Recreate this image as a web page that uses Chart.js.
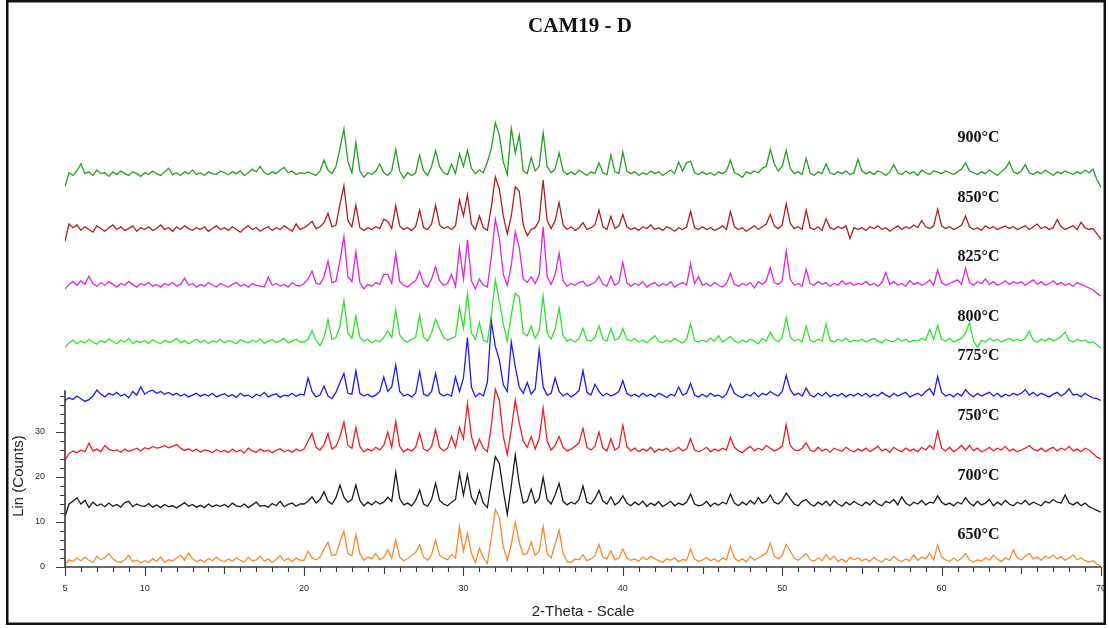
<!DOCTYPE html>
<html lang="en">
<head>
<meta charset="UTF-8">
<title>CAM19 - D</title>
<script src="https://cdn.jsdelivr.net/npm/chart.js"></script>
<style>
    html, body { margin: 0; padding: 0; background: #fff; }
    canvas { display: block; }
</style>
</head>
<body>
<canvas id="xrdChart" width="1109" height="628"></canvas>
<script>
// scan: 5 to 70 deg 2-theta, 0.25 deg step (261 points per pattern)
const scanStart = 5;
const scanStep = 0.25;

// vertical stacking offset of each pattern (counts)
const offsets = [0, 12, 24, 36, 48, 60, 72, 84];
const temps = ['650°C', '700°C', '750°C', '775°C', '800°C', '825°C', '850°C', '900°C'];

const xTickValues = [5, 10, 20, 30, 40, 50, 60, 70];
const yTickValues = [0, 10, 20, 30];

// intensities above each offset, 20 points (5 deg) per line
const i650 = [
    0.4,1.6,1.2,2.0,1.4,2.2,1.5,1.0,2.4,1.6,2.1,3.0,1.8,1.2,1.0,1.6,2.6,1.2,1.5,0.9,
    1.4,1.0,1.8,1.3,2.2,1.1,1.6,1.4,2.0,2.6,1.5,3.1,1.8,1.2,1.6,1.1,1.9,1.4,2.2,1.5,
    1.2,1.8,1.3,2.0,1.5,1.1,2.2,1.4,1.6,2.4,1.3,1.8,1.0,1.7,2.5,1.4,1.9,1.2,2.0,1.5,
    1.5,3.5,2.0,1.6,2.2,4.0,5.5,2.5,2.8,5.5,8.0,3.0,2.5,7.2,3.0,1.5,2.2,1.8,3.0,1.6,
    2.2,3.8,2.0,6.0,2.2,1.4,1.9,2.6,3.2,4.9,2.2,1.5,2.8,6.0,2.6,2.0,1.6,2.8,2.0,9.0,
    3.5,7.5,3.0,1.0,4.2,2.0,0.8,6.5,12.8,11.0,4.5,1.5,5.0,10.0,5.5,2.8,3.0,5.6,2.6,3.5,
    9.0,3.0,2.0,5.0,8.2,3.0,1.2,1.0,1.8,1.6,2.7,1.4,1.8,2.5,5.0,2.2,1.8,3.6,1.6,2.0,
    4.0,2.0,1.5,1.8,1.3,2.2,1.6,2.4,1.8,1.4,1.0,1.9,1.5,2.0,1.2,1.7,1.5,4.0,1.8,1.2,
    1.6,2.1,1.4,1.8,1.2,2.0,1.6,4.6,2.0,1.3,1.8,1.1,2.4,1.5,2.0,2.6,3.0,5.3,2.4,1.8,
    2.6,5.0,3.6,2.0,1.5,2.2,3.0,1.6,1.3,2.0,1.4,2.8,1.6,2.4,1.2,1.8,1.1,2.2,1.6,2.0,
    1.4,1.8,1.2,2.2,1.5,1.1,1.9,1.4,2.3,1.6,1.2,1.8,1.4,2.7,1.5,2.2,1.8,3.0,1.6,4.9,
    2.2,1.6,1.2,2.0,1.4,1.9,3.0,1.6,1.1,1.6,1.3,2.0,1.5,2.6,1.8,1.2,2.0,1.6,3.8,2.0,
    1.6,2.4,3.0,1.8,2.2,1.5,2.4,2.0,2.6,1.8,2.3,1.5,2.0,2.7,1.6,2.0,1.4,1.1,1.4,0.6,
    0.3
];
const i700 = [
    -0.8,2.0,2.6,3.4,2.0,2.8,1.2,2.4,1.6,2.0,1.4,2.2,1.5,1.9,1.3,2.3,2.6,1.4,2.0,1.6,
    1.5,2.1,1.3,1.8,1.2,1.9,1.4,1.6,1.1,1.7,2.3,1.5,1.9,1.3,1.7,1.2,2.0,1.4,1.8,1.5,
    1.9,1.3,2.2,1.6,1.4,2.0,1.2,1.8,2.4,1.5,1.7,1.3,2.1,1.6,2.6,1.4,1.9,2.2,1.5,2.0,
    2.0,2.6,3.6,2.2,3.0,4.7,2.6,2.0,3.4,6.2,3.5,2.4,3.0,6.2,2.8,1.6,2.4,1.8,2.6,2.0,
    2.4,3.5,2.6,9.0,3.2,1.8,2.2,1.6,2.8,5.1,2.0,1.5,3.0,6.6,2.8,2.0,1.6,2.4,3.0,8.8,
    4.0,8.5,3.5,2.0,5.0,2.2,1.2,7.0,12.5,11.0,5.0,-0.3,6.0,12.9,6.5,2.2,2.6,5.3,2.2,3.2,
    7.9,3.0,2.0,4.0,6.6,2.6,1.8,2.4,2.0,3.0,6.0,2.4,2.0,3.2,5.0,2.6,2.0,3.6,1.8,2.4,
    3.8,2.2,1.6,2.4,1.8,2.6,1.5,2.2,1.7,2.5,1.4,2.0,2.6,1.6,2.2,1.8,2.4,4.2,2.0,1.6,
    1.8,2.6,1.5,2.2,1.7,2.4,2.0,4.2,2.2,1.6,2.4,1.8,2.8,2.0,3.4,2.2,2.6,4.0,2.4,2.0,
    2.8,4.4,3.2,2.0,1.6,2.6,3.0,2.0,1.5,2.4,1.8,2.6,1.6,2.8,2.0,1.5,2.4,1.8,2.6,2.0,
    1.6,2.4,1.8,2.8,2.0,1.6,2.6,2.2,3.0,1.8,3.6,2.2,1.6,2.4,2.0,2.8,1.8,2.4,2.2,3.8,
    2.4,1.8,2.2,1.6,2.4,2.0,3.4,2.2,1.6,2.6,1.8,2.2,3.0,1.6,2.4,1.8,2.8,2.0,1.6,2.4,
    2.0,2.8,1.8,2.4,2.0,1.6,2.6,2.2,3.0,2.4,2.2,4.0,2.2,1.8,2.4,1.6,2.2,1.4,1.0,0.6,
    0.2
];
const i750 = [
    -0.2,1.2,1.8,1.4,2.0,1.6,3.5,1.8,2.2,1.6,3.0,2.2,1.8,2.0,1.5,2.2,1.7,2.0,2.4,1.8,
    2.5,2.2,2.8,2.4,2.6,3.0,2.5,2.8,3.2,2.4,1.9,2.3,1.7,2.2,1.5,2.0,1.8,1.4,2.1,1.6,
    1.9,1.4,2.2,1.6,2.0,1.3,2.4,1.8,1.5,2.2,1.7,2.0,1.4,1.9,2.3,1.6,2.0,1.5,2.2,1.8,
    2.2,4.0,5.7,2.6,2.0,3.2,5.7,2.2,2.8,5.0,8.2,3.0,2.4,7.0,2.8,1.6,2.2,1.8,2.6,2.0,
    3.0,6.0,2.6,8.3,2.8,1.6,2.2,1.8,2.6,5.7,2.2,1.8,2.8,6.5,2.6,1.8,2.4,5.0,2.6,7.0,
    4.5,12.4,5.0,2.0,4.4,2.4,1.6,7.5,15.5,13.0,5.0,1.0,6.5,13.1,8.0,4.0,2.6,5.0,2.2,4.5,
    11.3,4.0,2.0,3.0,5.0,2.6,1.8,2.2,2.8,3.6,6.8,2.6,2.0,2.8,6.0,2.4,1.8,4.5,2.0,2.6,
    7.5,2.8,1.8,2.4,1.6,2.2,1.8,2.6,1.5,2.2,1.9,2.4,1.6,2.0,2.6,1.8,2.2,4.5,2.0,1.6,
    2.0,2.6,1.6,2.2,1.8,2.4,2.0,4.8,2.6,1.8,1.4,2.2,2.8,1.8,2.4,2.0,3.0,2.4,1.8,2.2,
    2.8,7.6,3.0,2.0,1.8,2.4,3.6,2.0,1.6,2.6,1.8,2.2,1.5,2.4,2.0,1.7,2.6,2.0,1.6,2.2,
    1.8,2.4,1.6,2.2,2.8,1.8,2.2,1.5,2.6,2.0,1.6,2.4,1.8,2.2,1.6,2.6,2.0,3.0,2.2,6.2,
    2.4,1.8,2.6,1.6,2.2,3.0,2.0,3.0,1.8,2.4,1.6,2.0,2.6,1.8,2.4,2.0,2.8,1.8,2.2,1.6,
    2.0,2.4,3.0,2.2,1.8,2.4,1.6,2.2,2.6,1.8,2.4,2.0,2.8,1.8,2.2,1.6,2.4,2.0,1.2,0.4,
    0.0
];
const i775 = [
    1.0,1.6,1.2,2.0,1.4,0.8,1.2,2.0,3.3,2.4,1.8,2.6,2.2,2.8,2.0,2.4,1.6,3.0,2.2,4.0,
    2.4,3.0,3.3,2.6,3.0,2.4,2.8,2.2,2.6,2.0,2.4,1.8,2.2,2.6,1.9,2.4,2.0,2.6,1.8,2.2,
    2.5,1.9,2.3,1.7,2.6,2.0,2.2,1.6,2.4,2.0,2.8,1.8,2.2,2.5,1.7,2.2,2.0,2.6,1.9,2.4,
    2.2,6.0,3.0,1.8,2.2,4.2,2.0,1.4,2.8,5.0,7.0,2.6,2.4,7.6,2.6,2.0,2.4,1.8,2.2,3.0,
    6.2,3.0,4.0,8.9,3.0,2.0,2.4,1.8,2.6,7.4,2.4,2.0,3.0,7.0,2.6,2.0,2.4,2.0,6.2,3.0,
    6.0,15.0,4.0,1.8,2.6,2.0,5.0,18.5,13.0,10.0,4.5,3.0,14.0,8.5,4.0,2.6,5.0,2.4,3.5,12.2,
    4.0,2.2,2.6,6.0,3.0,2.0,2.6,1.8,2.4,3.2,7.6,2.8,2.2,4.6,3.0,2.0,2.6,2.0,2.4,3.0,
    5.4,2.6,2.0,2.4,1.8,2.6,2.0,2.4,1.8,2.6,2.2,1.6,2.4,2.0,4.0,2.2,2.6,4.8,2.2,1.8,
    2.4,1.8,2.6,2.0,2.2,1.6,2.4,4.6,2.6,2.0,1.6,2.4,2.0,2.8,1.8,2.6,2.2,3.0,2.4,2.0,
    3.0,6.6,3.4,2.2,2.6,2.0,3.8,2.2,1.8,2.6,2.0,2.8,1.8,2.4,2.0,2.6,1.8,2.4,2.0,2.6,
    2.0,2.6,1.8,2.4,2.0,2.8,2.2,1.8,2.6,2.0,2.4,2.8,1.8,2.2,2.6,2.0,3.0,3.6,2.2,6.3,
    2.8,2.0,2.4,1.8,2.6,2.0,3.4,2.4,1.8,2.6,2.0,2.4,2.8,2.0,2.6,1.8,2.4,2.0,2.6,2.2,
    2.6,3.4,2.2,2.8,2.0,2.6,2.2,1.8,2.4,2.8,2.0,2.6,3.6,2.2,2.4,1.8,2.6,2.0,1.6,1.4,
    1.0
];
const i800 = [
    0.8,1.8,2.4,1.6,2.2,1.8,2.6,2.0,1.5,2.3,1.9,2.7,2.1,1.6,2.4,2.0,2.8,1.7,2.2,1.9,
    2.3,1.7,2.5,2.0,1.6,2.4,1.9,2.2,2.8,1.8,2.3,1.6,2.1,2.6,1.9,2.4,1.7,2.2,2.0,2.6,
    1.8,2.3,2.0,1.6,2.5,2.1,1.8,2.4,2.0,2.7,1.7,2.2,2.5,1.9,2.3,2.8,1.8,2.2,2.6,2.0,
    2.0,2.6,4.5,2.4,1.2,3.0,6.9,2.6,3.0,5.5,11.2,4.0,2.8,7.8,3.0,2.2,2.6,1.8,2.4,2.0,
    3.0,4.5,3.0,9.1,3.6,2.4,2.0,2.6,3.0,8.0,3.0,2.2,4.0,7.0,5.0,3.0,2.4,2.8,3.2,9.7,
    5.0,12.7,4.0,2.6,6.3,2.4,2.0,8.0,15.8,11.0,6.0,2.2,8.0,12.8,12.0,4.0,3.4,5.5,2.8,4.5,
    12.2,4.0,2.6,5.0,9.5,3.4,2.2,2.6,2.0,2.8,5.0,2.4,2.2,3.0,5.6,2.6,2.2,5.0,2.4,2.8,
    5.0,2.6,2.2,2.8,2.0,2.4,1.8,2.6,3.4,2.2,1.8,2.4,2.0,2.8,2.2,1.8,2.6,6.0,2.4,2.0,
    2.4,2.0,2.8,2.2,3.4,2.0,2.6,3.2,2.2,1.8,2.4,2.0,2.6,2.2,1.6,2.8,2.2,4.2,2.6,2.0,
    3.0,7.4,3.2,2.2,2.6,2.0,5.5,2.4,2.0,2.6,2.2,6.0,2.4,2.0,2.6,2.2,2.8,2.0,2.4,2.2,
    2.6,2.0,2.4,2.8,2.2,1.8,2.6,2.2,2.0,2.8,2.2,2.6,2.0,2.4,2.2,2.8,2.4,4.8,2.6,5.7,
    2.6,2.2,2.8,2.0,2.4,2.8,4.0,6.4,2.2,0.8,2.4,2.0,2.8,2.2,2.6,2.0,2.4,2.8,2.2,2.6,
    2.2,2.8,4.4,2.4,2.0,2.6,2.2,2.8,2.2,2.6,3.2,4.2,2.4,2.0,2.6,2.2,2.4,1.8,2.0,1.4,
    0.6
];
const i825 = [
    1.8,2.8,3.4,2.6,3.6,2.8,4.6,3.0,2.4,3.2,2.6,3.4,2.8,2.2,3.0,2.6,3.4,2.8,2.2,3.0,
    2.6,3.2,2.4,2.8,2.2,3.0,2.6,3.2,2.4,2.8,4.2,2.6,3.0,2.2,2.8,2.4,3.2,2.6,2.2,3.0,
    2.6,2.2,2.8,3.2,2.4,2.8,2.2,3.0,2.6,2.4,2.2,4.4,2.6,3.0,2.4,2.8,2.2,3.2,2.6,2.4,
    3.0,4.0,5.8,3.0,2.8,4.5,8.0,3.2,3.5,8.0,13.4,4.5,3.4,10.0,3.2,1.8,2.8,2.4,3.2,2.8,
    5.0,5.0,3.0,9.7,3.4,2.6,2.2,3.0,3.6,5.7,3.0,2.2,4.0,6.7,3.6,2.6,3.0,5.0,2.4,10.8,
    4.0,12.7,3.6,1.8,4.0,2.6,2.2,9.0,17.3,13.0,5.0,2.6,7.0,14.5,11.0,4.0,3.2,4.5,3.0,5.0,
    15.6,4.5,2.8,5.0,9.7,3.6,2.4,3.0,2.6,3.2,3.5,2.4,2.8,3.2,4.6,2.8,2.4,4.6,2.6,3.2,
    7.7,3.2,2.4,3.0,2.6,3.4,2.2,2.8,3.2,2.4,3.0,2.6,3.4,2.2,2.8,3.2,2.6,7.4,3.0,4.5,
    2.6,3.0,2.4,3.2,2.6,2.2,3.0,5.2,2.8,2.4,3.0,2.6,3.2,2.0,3.4,2.8,3.6,6.5,3.2,2.8,
    3.6,10.2,4.0,2.6,3.0,2.4,6.2,3.0,2.6,3.4,2.8,3.2,2.4,3.0,2.6,3.6,2.8,3.2,2.6,3.0,
    2.8,3.4,2.6,3.0,2.4,3.2,5.4,2.8,3.4,2.6,3.0,2.4,3.6,2.8,3.2,2.6,3.0,3.8,2.6,6.0,
    3.2,2.6,3.0,3.4,3.8,2.8,6.4,3.2,2.6,3.4,3.0,4.0,2.8,3.4,2.6,3.0,3.6,2.8,3.4,3.0,
    3.4,2.6,3.2,3.8,2.8,3.4,2.6,3.0,3.6,2.8,3.2,2.6,3.0,2.4,3.2,2.8,2.4,2.0,1.6,0.8,
    0.2
];
const i850 = [
    0.4,4.2,3.4,4.0,2.8,3.6,3.0,2.4,3.8,3.2,2.6,3.4,4.0,3.0,3.6,2.8,3.2,3.8,2.6,3.4,
    3.0,3.6,2.8,3.2,4.0,3.0,3.4,2.6,3.6,3.0,3.8,3.2,2.8,3.4,3.0,3.6,2.6,3.2,3.8,3.0,
    3.4,2.8,3.6,3.0,2.4,3.2,3.8,3.0,3.4,2.6,3.2,3.6,2.8,3.4,3.0,3.8,3.2,2.6,4.2,3.0,
    3.4,4.0,4.8,3.2,3.6,4.5,6.6,3.6,4.0,8.5,12.7,5.0,3.6,8.4,3.4,2.8,3.4,3.0,3.6,3.2,
    5.3,4.8,3.2,8.3,3.8,3.0,3.4,2.8,3.6,7.3,3.4,3.0,4.2,8.4,4.0,3.2,3.6,3.0,3.8,9.6,
    6.0,10.7,4.2,3.0,6.0,3.4,2.8,8.0,14.7,12.0,6.0,2.0,6.0,12.5,11.5,4.0,1.6,3.0,3.4,5.0,
    14.0,5.0,3.2,5.0,9.0,4.0,3.0,3.6,2.8,3.4,4.5,3.0,3.4,4.0,7.3,3.6,3.0,5.9,3.2,3.8,
    6.3,3.6,3.0,3.4,2.8,3.6,3.2,4.0,3.0,3.4,2.8,3.6,3.2,2.6,3.4,3.0,3.6,7.0,3.4,3.0,
    3.6,3.0,3.4,2.8,3.2,3.8,3.0,7.0,3.6,3.0,3.4,2.6,3.2,3.8,3.0,3.6,4.2,6.3,3.8,3.2,
    4.0,8.7,4.4,3.2,3.6,3.0,7.3,3.4,3.0,3.6,2.8,5.4,3.4,3.0,3.6,3.2,3.8,1.0,3.4,3.0,
    3.4,2.8,3.6,3.2,3.8,3.0,3.4,2.6,3.2,3.8,3.0,3.6,3.2,4.0,3.4,5.0,3.6,3.2,3.8,7.5,
    3.8,3.2,3.6,3.0,3.4,4.0,6.0,3.6,3.0,3.4,2.8,3.8,3.2,3.6,3.0,3.4,3.8,3.2,3.6,3.0,
    3.4,3.8,3.0,3.6,4.2,3.2,3.6,3.0,3.4,5.2,3.6,3.0,3.4,3.8,3.0,4.6,3.4,3.0,3.2,2.0,
    0.8
];
const i900 = [
    0.5,3.6,3.0,4.0,5.6,3.4,3.8,3.0,4.2,3.4,3.6,2.8,3.8,3.2,4.0,3.4,3.0,3.8,3.4,2.8,
    3.6,3.2,4.0,3.4,3.0,3.8,4.6,3.2,3.6,3.0,3.8,3.4,4.2,3.2,3.6,3.0,3.8,3.4,3.2,4.0,
    3.6,3.2,3.8,3.4,4.0,3.0,3.6,4.4,3.8,5.0,3.6,3.2,3.8,3.4,4.2,4.8,3.6,4.0,3.2,3.6,
    3.4,3.8,3.4,3.0,4.0,6.4,4.2,3.4,5.0,9.0,13.3,6.0,3.6,10.3,4.0,2.6,3.6,3.2,4.0,5.5,
    3.6,3.0,4.0,8.8,4.0,2.4,3.6,3.0,3.6,7.5,4.0,3.0,5.0,8.5,5.0,3.6,3.2,5.5,3.4,7.8,
    5.0,8.6,4.6,3.4,4.2,3.6,6.0,9.0,14.7,12.0,6.0,3.2,13.5,8.0,12.0,4.0,3.4,7.0,4.0,5.0,
    12.5,5.0,3.6,4.4,8.0,4.0,3.2,3.8,3.2,4.2,3.6,3.0,3.8,3.4,5.8,3.6,3.2,7.6,3.8,3.4,
    8.2,4.0,3.4,3.8,3.0,3.6,3.2,4.0,3.4,3.8,3.0,3.6,4.2,3.4,6.0,4.0,5.8,6.2,3.6,3.2,
    3.8,3.2,3.6,3.0,3.8,3.4,4.0,6.4,3.6,3.2,2.6,3.8,3.4,4.0,3.6,4.6,5.0,8.8,5.6,4.0,
    5.0,8.6,4.6,3.4,3.8,3.2,6.8,3.6,3.0,3.8,3.4,5.6,3.6,3.2,3.8,3.4,4.0,3.2,3.6,6.6,
    4.0,3.4,3.8,3.2,4.0,3.6,3.0,3.8,5.4,3.6,3.2,4.0,3.4,3.8,3.0,4.2,3.6,3.2,4.0,3.8,
    3.4,4.0,3.6,3.2,3.8,4.4,5.8,4.0,3.6,3.2,3.8,3.4,4.2,3.6,3.0,3.8,4.6,6.0,3.8,3.4,
    4.0,5.4,3.6,3.2,3.8,3.4,4.2,3.6,3.0,3.8,3.4,4.0,3.6,3.2,3.8,3.4,4.2,3.6,4.4,2.0,
    0.4
];

const patterns = [i650, i700, i750, i775, i800, i825, i850, i900];
const colors = ['#f88a2c', '#1c1c1c', '#ee2020', '#1c1ced', '#2ee22e', '#e024e0', '#b21e1e', '#22a022'];

// where the temperature captions sit (2-theta, counts)
const captionTheta = 61.0;
const captionLevels = [7.1, 20.2, 33.6, 46.9, 55.6, 68.9, 82.0, 95.3];

const yAxisTop = 39.3; // visible length of the left axis line

const datasets = patterns.map((vals, k) => ({
    label: temps[k],
    data: vals.map((v, i) => ({ x: scanStart + i * scanStep, y: offsets[k] + v })),
    borderColor: colors[k],
    borderWidth: 1.3,
    pointRadius: 0,
    tension: 0,
    fill: false
}));

// axis lines, minor ticks, captions, titles and frame
const decorations = {
    id: 'decorations',
    afterDraw(chart) {
        const { ctx, chartArea } = chart;
        const xs = chart.scales.x;
        const ys = chart.scales.y;
        const left = chartArea.left;
        const bottom = chartArea.bottom;
        ctx.save();

        ctx.strokeStyle = '#3a3a3a';
        ctx.lineWidth = 1.6;
        ctx.beginPath();
        ctx.moveTo(left, ys.getPixelForValue(0));
        ctx.lineTo(left, ys.getPixelForValue(yAxisTop));
        ctx.moveTo(left, bottom);
        ctx.lineTo(chartArea.right, bottom);
        ctx.stroke();

        ctx.lineWidth = 1.1;
        ctx.beginPath();
        for (let v = 0; v <= 38; v += 2) {
            const py = Math.round(ys.getPixelForValue(v)) + 0.5;
            const len = v % 10 === 0 ? 9 : 5;
            ctx.moveTo(left - len, py);
            ctx.lineTo(left, py);
        }
        for (let t = 5; t <= 70; t += 1) {
            const px = Math.round(xs.getPixelForValue(t)) + 0.5;
            const len = t % 10 === 0 || t === 5 ? 9 : (t % 5 === 0 ? 7 : 5);
            ctx.moveTo(px, bottom);
            ctx.lineTo(px, bottom + len);
        }
        ctx.stroke();

        // temperature captions
        ctx.fillStyle = '#111';
        ctx.font = 'bold 16px "Liberation Serif", "DejaVu Serif", serif';
        ctx.textAlign = 'left';
        ctx.textBaseline = 'middle';
        temps.forEach((t, k) => {
            ctx.fillText(t, xs.getPixelForValue(captionTheta), ys.getPixelForValue(captionLevels[k]));
        });

        // chart title
        ctx.textAlign = 'center';
        ctx.font = 'bold 21px "Liberation Serif", "DejaVu Serif", serif';
        ctx.fillText('CAM19 - D', 580, 27);

        // axis titles
        ctx.fillStyle = '#22232e';
        ctx.font = '15px "Liberation Sans", Arial, sans-serif';
        ctx.fillText('2-Theta - Scale', (chartArea.left + chartArea.right) / 2, 612);
        ctx.save();
        ctx.translate(19, 476);
        ctx.rotate(-Math.PI / 2);
        ctx.fillText('Lin (Counts)', 0, 0);
        ctx.restore();

        // outer frame
        ctx.strokeStyle = '#111';
        ctx.lineWidth = 2.5;
        ctx.strokeRect(7.25, 1.25, 1097.5, 622.5);
        ctx.restore();
    }
};

new Chart(document.getElementById('xrdChart'), {
    type: 'line',
    data: { datasets },
    options: {
        responsive: false,
        animation: false,
        layout: { padding: { left: 0, right: 8, top: 40, bottom: 0 } },
        plugins: { legend: { display: false }, tooltip: { enabled: false } },
        scales: {
            x: {
                type: 'linear',
                min: 5,
                max: 70,
                grid: { display: false },
                border: { display: false },
                afterBuildTicks: s => { s.ticks = xTickValues.map(v => ({ value: v })); },
                afterFit: s => { s.height = 61; s.paddingLeft = 0; s.paddingRight = 0; },
                ticks: {
                    autoSkip: false,
                    maxRotation: 0,
                    padding: 8,
                    color: '#2a2b38',
                    font: { family: '"Liberation Sans", Arial, sans-serif', size: 9 }
                }
            },
            y: {
                min: 0,
                max: 117.1,
                grid: { display: false },
                border: { display: false },
                afterBuildTicks: s => { s.ticks = yTickValues.map(v => ({ value: v })); },
                afterFit: s => { s.width = 65; s.paddingTop = 0; s.paddingBottom = 0; },
                ticks: {
                    padding: 12,
                    color: '#2a2b38',
                    font: { family: '"Liberation Sans", Arial, sans-serif', size: 9 }
                }
            }
        }
    },
    plugins: [decorations]
});
</script>
</body>
</html>
